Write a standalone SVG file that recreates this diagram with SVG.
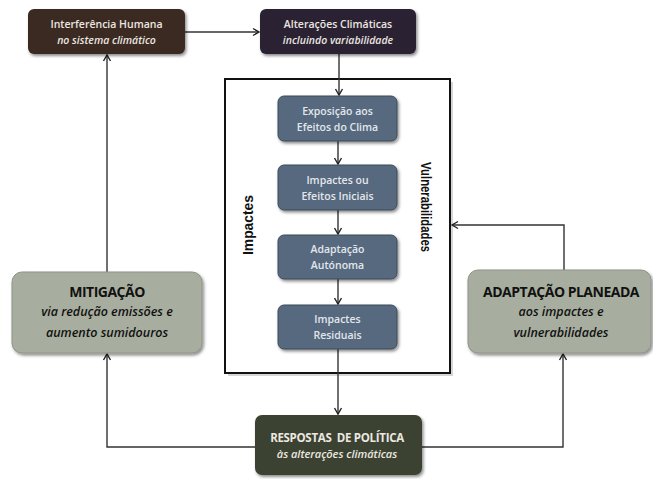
<svg xmlns="http://www.w3.org/2000/svg" width="653" height="479" viewBox="0 0 653 479">
<defs>
<filter id="sh" x="-10%" y="-10%" width="130%" height="140%">
<feDropShadow dx="1.5" dy="2" stdDeviation="1.5" flood-color="#000" flood-opacity="0.45"/>
</filter>
<marker id="ar" markerWidth="10" markerHeight="10" refX="8" refY="5" orient="auto" markerUnits="userSpaceOnUse">
<path d="M2,1.5 L8,5 L2,8.5" fill="none" stroke="#222" stroke-width="1.4"/>
</marker>
<style>
.c{fill:none;stroke:#333;stroke-width:1.4}
.t{font-family:"Open Sans","Liberation Sans",sans-serif;text-anchor:middle}
.lt{fill:#ece6e0;font-size:10.5px;font-weight:600}
.ib{fill:#e3e7ec;font-size:10.5px;font-weight:600}
.it{font-style:italic}
.gb{fill:#111;font-size:14px;font-weight:bold;letter-spacing:-0.5px}
.gi{fill:#111;font-size:12.5px;font-style:italic;font-weight:600}
.inner{fill:#57697e;stroke:#3d4a58;stroke-width:1}
.grey{fill:#a8ae9f;stroke:#8d9386;stroke-width:1}
.side{font-family:"Liberation Sans",sans-serif;font-weight:bold;fill:#111;text-anchor:middle}
</style>
</defs>

<g id="container">
<rect x="228" y="82" width="225" height="294" fill="#bbb" opacity="0.6"/>
<rect x="225" y="79" width="225" height="294" fill="#fff" stroke="#111" stroke-width="2"/>
<text class="side" transform="translate(253,225) rotate(-90)" style="font-size:14px" textLength="60" lengthAdjust="spacingAndGlyphs">Impactes</text>
<text class="side" transform="translate(421,207) rotate(90)" style="font-size:15px" textLength="90" lengthAdjust="spacingAndGlyphs">Vulnerabilidades</text>
</g>

<g id="connectors">
<line class="c" x1="185" y1="32" x2="259" y2="32" marker-end="url(#ar)"/>
<line class="c" x1="339" y1="54" x2="339" y2="95" marker-end="url(#ar)"/>
<line class="c" x1="338" y1="141" x2="338" y2="164" marker-end="url(#ar)"/>
<line class="c" x1="338" y1="210" x2="338" y2="234" marker-end="url(#ar)"/>
<line class="c" x1="338" y1="279" x2="338" y2="304" marker-end="url(#ar)"/>
<line class="c" x1="338" y1="349" x2="338" y2="414" marker-end="url(#ar)"/>
<line class="c" x1="107" y1="272" x2="107" y2="55" marker-end="url(#ar)"/>
<polyline class="c" points="255,447 107,447 107,354" marker-end="url(#ar)"/>
<polyline class="c" points="422,447 563,447 563,354" marker-end="url(#ar)"/>
<polyline class="c" points="564,270 564,225 452,225" marker-end="url(#ar)"/>
</g>

<g id="interferencia">
<rect x="28" y="9" width="157" height="45" rx="6" fill="#3b2a20" filter="url(#sh)"/>
<text class="t lt" x="106.5" y="28">Interferência Humana</text>
<text class="t lt it" x="106.5" y="44">no sistema climático</text>
</g>

<g id="alteracoes">
<rect x="260" y="9" width="156" height="45" rx="6" fill="#2a2433" filter="url(#sh)"/>
<text class="t lt" x="338" y="28">Alterações Climáticas</text>
<text class="t lt it" x="338" y="44">incluindo variabilidade</text>
</g>

<g id="exposicao">
<rect class="inner" x="278" y="96" width="119" height="45" rx="6" filter="url(#sh)"/>
<text class="t ib" x="337.5" y="115">Exposição aos</text>
<text class="t ib" x="337.5" y="131">Efeitos do Clima</text>
</g>

<g id="impactes-iniciais">
<rect class="inner" x="278" y="165" width="119" height="45" rx="6" filter="url(#sh)"/>
<text class="t ib" x="337.5" y="184">Impactes ou</text>
<text class="t ib" x="337.5" y="200">Efeitos Iniciais</text>
</g>

<g id="adaptacao-autonoma">
<rect class="inner" x="278" y="235" width="119" height="44" rx="6" filter="url(#sh)"/>
<text class="t ib" x="337.5" y="253">Adaptação</text>
<text class="t ib" x="337.5" y="269">Autónoma</text>
</g>

<g id="impactes-residuais">
<rect class="inner" x="278" y="305" width="119" height="44" rx="6" filter="url(#sh)"/>
<text class="t ib" x="337.5" y="323">Impactes</text>
<text class="t ib" x="337.5" y="339">Residuais</text>
</g>

<g id="respostas">
<rect x="255" y="415" width="167" height="60" rx="7" fill="#3a4230" filter="url(#sh)"/>
<text class="t" x="337" y="442" xml:space="preserve" style="fill:#ece8e0;font-size:11.5px;font-weight:bold;letter-spacing:-0.3px;white-space:pre">RESPOSTAS  DE POLÍTICA</text>
<text class="t" x="337" y="458" style="fill:#ece8e0;font-size:11px;font-style:italic;font-weight:600">às alterações climáticas</text>
</g>

<g id="mitigacao">
<rect class="grey" x="12" y="272" width="190" height="81" rx="10" filter="url(#sh)"/>
<text class="t gb" x="107" y="297">MITIGAÇÃO</text>
<text class="t gi" x="107" y="316">via redução emissões e</text>
<text class="t gi" x="107" y="337">aumento sumidouros</text>
</g>

<g id="adaptacao-planeada">
<rect class="grey" x="468" y="270" width="183" height="83" rx="10" filter="url(#sh)"/>
<text class="t gb" x="561" y="297">ADAPTAÇÃO PLANEADA</text>
<text class="t gi" x="561" y="316">aos impactes e</text>
<text class="t gi" x="561" y="337">vulnerabilidades</text>
</g>
</svg>
